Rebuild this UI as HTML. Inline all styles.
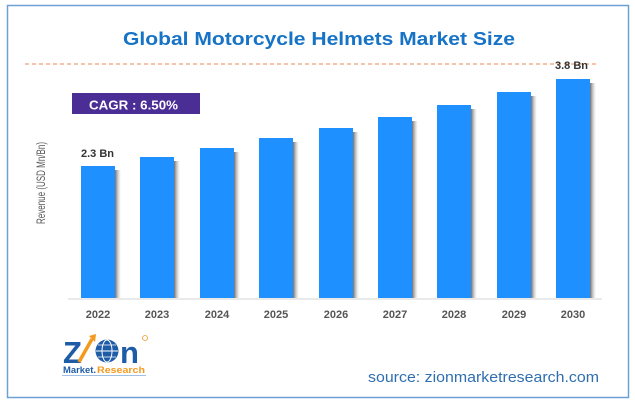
<!DOCTYPE html>
<html>
<head>
<meta charset="utf-8">
<style>
  html, body { margin: 0; padding: 0; background: #ffffff; }
  svg { display: block; }
  text { font-family: "Liberation Sans", sans-serif; }
</style>
</head>
<body>
<svg width="635" height="403" viewBox="0 0 635 403" xmlns="http://www.w3.org/2000/svg">
  <defs>
    <linearGradient id="sh" x1="0" y1="0" x2="1" y2="0">
      <stop offset="0" stop-color="#666666" stop-opacity="0.95"/>
      <stop offset="1" stop-color="#bbbbbb" stop-opacity="0"/>
    </linearGradient>
  </defs>
  <rect x="0" y="0" width="635" height="403" fill="#ffffff"/>
  <!-- frame -->
  <rect x="7.5" y="5.5" width="621" height="392" fill="none" stroke="#6ea0d6" stroke-width="1.5"/>

  <!-- title -->
  <text x="123" y="45" font-size="18.5" font-weight="bold" fill="#1673c6" textLength="392" lengthAdjust="spacingAndGlyphs">Global Motorcycle Helmets Market Size</text>

  <!-- dashed line -->
  <line x1="25" y1="64" x2="597" y2="64" stroke="#ef8a4c" stroke-width="1" stroke-dasharray="4,3"/>

  <!-- CAGR box -->
  <rect x="72" y="93" width="128" height="21" fill="#4b2d96"/>
  <text x="89" y="109.5" font-size="13" font-weight="bold" fill="#ffffff" textLength="89" lengthAdjust="spacingAndGlyphs">CAGR : 6.50%</text>

  <!-- y axis label -->
  <text transform="translate(45,183) rotate(-90)" text-anchor="middle" font-size="11.5" fill="#595959" textLength="82" lengthAdjust="spacingAndGlyphs">Revenue (USD Mn/Bn)</text>

  <!-- shadows -->
  <g fill="url(#sh)">
    <rect x="115" y="170" width="6" height="128"/>
    <rect x="174" y="161" width="6" height="137"/>
    <rect x="234" y="152" width="6" height="146"/>
    <rect x="293" y="142" width="6" height="156"/>
    <rect x="353" y="132" width="6" height="166"/>
    <rect x="412" y="121" width="6" height="177"/>
    <rect x="471" y="109" width="6" height="189"/>
    <rect x="531" y="96" width="6" height="202"/>
    <rect x="590" y="83" width="6" height="215"/>
  </g>
  <!-- bars -->
  <g fill="#1e90ff">
    <rect x="81" y="166" width="34" height="132"/>
    <rect x="140" y="157" width="34" height="141"/>
    <rect x="200" y="148" width="34" height="150"/>
    <rect x="259" y="138" width="34" height="160"/>
    <rect x="319" y="128" width="34" height="170"/>
    <rect x="378" y="117" width="34" height="181"/>
    <rect x="437" y="105" width="34" height="193"/>
    <rect x="497" y="92" width="34" height="206"/>
    <rect x="556" y="79" width="34" height="219"/>
  </g>

  <!-- axis line -->
  <line x1="68" y1="299" x2="602" y2="299" stroke="#d4d4d4" stroke-width="1"/>

  <!-- value labels -->
  <text x="81" y="157" font-size="11" font-weight="bold" fill="#333333">2.3 Bn</text>
  <text x="555" y="69" font-size="11" font-weight="bold" fill="#333333">3.8 Bn</text>

  <!-- year labels -->
  <g font-size="11" font-weight="bold" fill="#555555" text-anchor="middle">
    <text x="98" y="318">2022</text>
    <text x="157" y="318">2023</text>
    <text x="217" y="318">2024</text>
    <text x="276" y="318">2025</text>
    <text x="336" y="318">2026</text>
    <text x="395" y="318">2027</text>
    <text x="454" y="318">2028</text>
    <text x="514" y="318">2029</text>
    <text x="573" y="318">2030</text>
  </g>

  <!-- logo -->
  <g>
    <text x="63" y="363" font-size="31" font-weight="bold" fill="#1f5ca8">Z</text>
    <line x1="79" y1="362" x2="92" y2="339" stroke="#f39a1e" stroke-width="3.5"/>
    <polygon points="89,336 96,334 95,342" fill="#f39a1e"/>
    <circle cx="107" cy="351" r="11.5" fill="#1f5ca8"/>
    <ellipse cx="107" cy="351" rx="5" ry="11" fill="none" stroke="#ffffff" stroke-width="1"/>
    <line x1="96" y1="351" x2="118" y2="351" stroke="#ffffff" stroke-width="1"/>
    <line x1="98" y1="345" x2="116" y2="345" stroke="#ffffff" stroke-width="0.8"/>
    <line x1="98" y1="357" x2="116" y2="357" stroke="#ffffff" stroke-width="0.8"/>
    <text x="120" y="363" font-size="31" font-weight="bold" fill="#1f5ca8">n</text>
    <circle cx="145" cy="338" r="2.5" fill="none" stroke="#f39a1e" stroke-width="0.8"/>
    <text x="63" y="373" font-size="9.5" font-weight="bold" fill="#1f5ca8" textLength="33" lengthAdjust="spacingAndGlyphs">Market.</text>
    <text x="97" y="373" font-size="9.5" font-weight="bold" fill="#f39a1e" textLength="48" lengthAdjust="spacingAndGlyphs">Research</text>
    <line x1="62" y1="375.5" x2="146" y2="375.5" stroke="#9fc0e4" stroke-width="1"/>
  </g>

  <!-- source -->
  <text x="368" y="382" font-size="15" fill="#2f6eb0" textLength="231" lengthAdjust="spacingAndGlyphs">source: zionmarketresearch.com</text>
</svg>
</body>
</html>
